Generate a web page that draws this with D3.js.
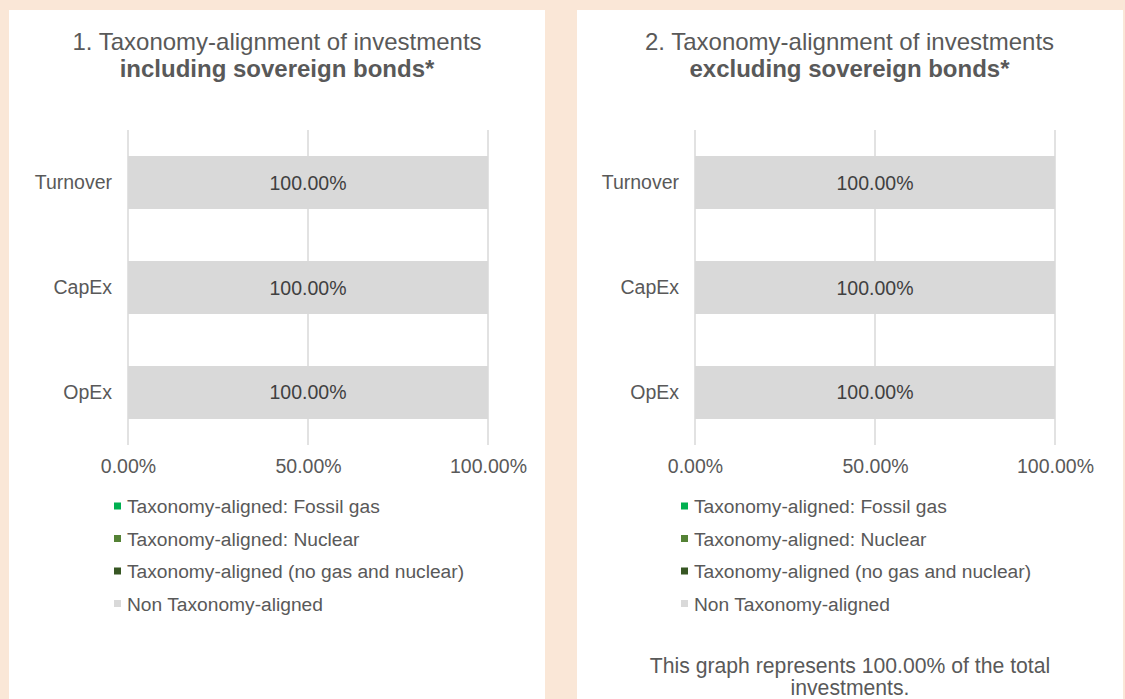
<!DOCTYPE html>
<html><head><meta charset="utf-8">
<script src="https://cdn.jsdelivr.net/npm/d3@7"></script>
<style>
html,body{margin:0;padding:0;background:#fae7d7;}
svg{display:block;font-family:"Liberation Sans",Arial,sans-serif;}
</style></head>
<body>
<svg id="c" width="1125" height="699"></svg>
<script>
const categories = ["Turnover","CapEx","OpEx"];
const seriesNames = ["Taxonomy-aligned: Fossil gas","Taxonomy-aligned: Nuclear","Taxonomy-aligned (no gas and nuclear)","Non Taxonomy-aligned"];
const seriesColors = ["#00b050","#548235","#375623","#d9d9d9"];
const incFossil = [0,0,0], incNuclear=[0,0,0], incNoGas=[0,0,0], incNon=[100,100,100];
const excFossil = [0,0,0], excNuclear=[0,0,0], excNoGas=[0,0,0], excNon=[100,100,100];
const tickValues = [0,50,100];
const titles = [["1. Taxonomy-alignment of investments","including sovereign bonds*"],["2. Taxonomy-alignment of investments","excluding sovereign bonds*"]];
const footnote = ["This graph represents 100.00% of the total","investments."];

const svg = d3.select("#c");
const textCol = "#595959";
const FF = "Liberation Sans, Arial, sans-serif";

const panels = [
  {x0:9, x1:545, plotL:128, plotR:488, tcx:277, data:[incFossil,incNuclear,incNoGas,incNon], title:titles[0], foot:false},
  {x0:577, x1:1123, plotL:695, plotR:1055, tcx:849.5, data:[excFossil,excNuclear,excNoGas,excNon], title:titles[1], foot:true}
];

panels.forEach(p=>{
  const g = svg.append("g");
  g.append("rect").attr("x",p.x0).attr("y",10).attr("width",p.x1-p.x0).attr("height",699).attr("fill","#ffffff");
  g.append("text").attr("x",p.tcx).attr("y",50).attr("text-anchor","middle").attr("font-size",24).attr("fill",textCol).text(p.title[0]);
  g.append("text").attr("x",p.tcx).attr("y",77).attr("text-anchor","middle").attr("font-size",24).attr("font-weight","bold").attr("fill",textCol).text(p.title[1]);

  const x = d3.scaleLinear().domain([0,100]).range([p.plotL,p.plotR]);
  const y = d3.scaleBand().domain(categories).range([130,445]).paddingInner(0.495).paddingOuter(0.2476);

  g.selectAll(".grid").data(tickValues).join("line")
    .attr("x1",d=>x(d)).attr("x2",d=>x(d)).attr("y1",130).attr("y2",445)
    .attr("stroke","#d9d9d9").attr("stroke-width",1.5);

  const rows = categories.map((c,i)=>{const o={cat:c}; seriesNames.forEach((s,j)=>o[s]=p.data[j][i]); return o;});
  const stack = d3.stack().keys(seriesNames)(rows);
  stack.forEach((layer,j)=>{
    g.selectAll(null).data(layer).join("rect")
      .attr("x",d=>x(d[0])).attr("width",d=>x(d[1])-x(d[0]))
      .attr("y",d=>y(d.data.cat)).attr("height",y.bandwidth())
      .attr("fill",seriesColors[j]);
  });
  stack.forEach((layer,j)=>{
    g.selectAll(null).data(layer.filter(d=>d[1]-d[0]>0)).join("text")
      .attr("x",d=>x((d[0]+d[1])/2)).attr("y",d=>y(d.data.cat)+y.bandwidth()/2+7)
      .attr("text-anchor","middle").attr("font-size",19.5).attr("fill","#404040")
      .text(d=>(d[1]-d[0]).toFixed(2)+"%");
  });

  const ya = g.append("g").attr("transform",`translate(${p.plotL-16},0)`)
    .call(d3.axisLeft(y).tickSize(0).tickPadding(0));
  ya.select(".domain").remove();
  ya.selectAll("text").attr("font-size",19.5).attr("fill",textCol).attr("font-family",FF).attr("dy","0.32em");

  const xa = g.append("g").attr("transform",`translate(0,445)`)
    .call(d3.axisBottom(x).tickValues(tickValues).tickSize(0).tickPadding(14).tickFormat(d=>d.toFixed(2)+"%"));
  xa.select(".domain").remove();
  xa.selectAll("text").attr("font-size",19.5).attr("fill",textCol).attr("font-family",FF);

  const lg = g.append("g");
  seriesNames.forEach((s,i)=>{
    const ly = 506 + i*32.5;
    lg.append("rect").attr("x",p.plotL-14).attr("y",ly-3.5).attr("width",7).attr("height",7).attr("fill",seriesColors[i]);
    lg.append("text").attr("x",p.plotL-1).attr("y",ly+7).attr("font-size",19.2).attr("fill",textCol).text(s);
  });

  if(p.foot){
    footnote.forEach((t,i)=>{
      g.append("text").attr("x",850).attr("y",673+i*22).attr("text-anchor","middle").attr("font-size",21.2).attr("fill",textCol).text(t);
    });
  }
});
</script>
</body></html>
